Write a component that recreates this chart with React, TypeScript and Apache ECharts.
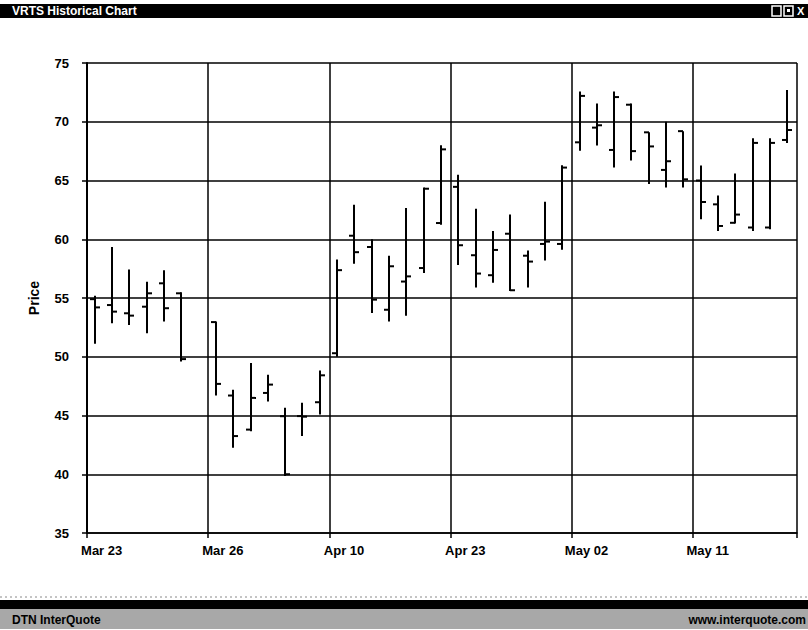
import React, { useEffect, useRef } from "react";
import * as echarts from "echarts";

// Tick labels shown every 7th session
const tickLabels = ["Mar 23", "Mar 26", "Apr 10", "Apr 23", "May 02", "May 11"];

// OHLC values per session (index 6 has no bar)
const opens = [
  54.9, 54.4, 53.7, 54.26, 56.25, 55.4, null,
  52.95, 46.7, 43.8, 46.92, 44.94, 44.95, 46.13,
  50.3, 60.3, 59.34, 54.0, 56.4, 57.55, 61.38,
  64.46, 58.64, 56.94, 60.47, 58.6, 59.6, 59.6,
  68.25, 69.5, 67.6, 71.45, 69.1, 65.9, 69.2,
  65.0, 62.97, 61.4, 61.0, 61.0, 68.45,
];
const highs = [
  55.2, 59.35, 57.43, 56.38, 57.37, 55.5, null,
  53.0, 47.2, 49.47, 48.47, 45.65, 46.08, 48.84,
  58.28, 62.94, 60.0, 58.6, 62.66, 64.4, 68.0,
  65.5, 62.6, 60.7, 62.1, 59.05, 63.2, 66.3,
  72.58, 71.56, 72.58, 71.56, 69.1, 70.0, 69.2,
  66.27, 63.73, 65.6, 68.6, 68.6, 72.7,
];
const lows = [
  51.1, 52.86, 52.7, 52.0, 53.0, 49.6, null,
  46.7, 42.26, 43.67, 46.2, 39.86, 43.25, 45.08,
  50.0, 57.91, 53.72, 53.0, 53.5, 57.12, 61.23,
  57.8, 55.9, 56.3, 55.6, 55.9, 58.2, 59.1,
  67.54, 67.97, 66.1, 66.7, 64.7, 64.4, 64.4,
  61.7, 60.7, 61.33, 60.7, 60.85, 68.2,
];
const closes = [
  54.2, 53.84, 53.5, 55.4, 54.13, 49.8, null,
  47.69, 43.25, 46.5, 47.63, 40.0, 44.9, 48.42,
  57.37, 58.9, 54.86, 57.7, 56.84, 64.3, 67.65,
  59.49, 57.08, 59.09, 55.66, 58.1, 59.8, 66.1,
  72.2, 69.7, 72.1, 67.5, 67.9, 66.64, 65.1,
  63.17, 61.13, 62.1, 68.2, 68.2, 69.3,
];

const sessions = opens.map((_, i) => String(i));

export default function App() {
  const ref = useRef<HTMLDivElement>(null);

  useEffect(() => {
    if (!ref.current) return;
    const chart = echarts.init(ref.current, undefined, { renderer: "svg" });

    const data: any[] = [];
    opens.forEach((o, i) => {
      if (o == null) return;
      data.push([i, o, highs[i], lows[i], closes[i]]);
    });

    const font = "'Liberation Sans', Arial, sans-serif";

    chart.setOption({
      animation: false,
      backgroundColor: "#ffffff",
      grid: { left: 87, right: 11, top: 63, bottom: 97, containLabel: false },
      xAxis: {
        type: "category",
        data: sessions,
        boundaryGap: true,
        axisLine: { show: true, lineStyle: { color: "#000", width: 1.5 } },
        axisTick: { show: true, interval: 6, length: 5, lineStyle: { color: "#000", width: 1.5 } },
        axisLabel: {
          interval: 6,
          margin: 11,
          color: "#000",
          fontWeight: "bold",
          fontSize: 13,
          fontFamily: font,
          padding: [0, 0, 0, 12],
          formatter: (_v: string, idx: number) => tickLabels[Math.floor(idx / 7)] ?? "",
        },
        splitLine: { show: true, interval: 6, lineStyle: { color: "#000", width: 1.5 } },
      },
      yAxis: {
        type: "value",
        min: 35,
        max: 75,
        interval: 5,
        name: "Price",
        nameLocation: "middle",
        nameGap: 46,
        nameTextStyle: { color: "#000", fontWeight: "bold", fontSize: 14, fontFamily: font },
        axisLine: { show: true, lineStyle: { color: "#000", width: 2 } },
        axisTick: { show: true, length: 5, lineStyle: { color: "#000", width: 1.5 } },
        axisLabel: { color: "#000", fontWeight: "bold", fontSize: 13, fontFamily: font, margin: 18 },
        splitLine: { show: true, lineStyle: { color: "#000", width: 1.5 } },
      },
      series: [
        {
          type: "custom",
          data,
          encode: { x: 0, y: [1, 2, 3, 4] },
          renderItem: (_params: any, api: any) => {
            const x = api.value(0);
            const o = api.coord([x, api.value(1)]);
            const h = api.coord([x, api.value(2)]);
            const l = api.coord([x, api.value(3)]);
            const c = api.coord([x, api.value(4)]);
            const px = Math.round(h[0]) - 1;
            const w = 5;
            const st = { stroke: "#000", lineWidth: 2 };
            return {
              type: "group",
              children: [
                { type: "line", shape: { x1: px, y1: h[1], x2: px, y2: l[1] }, style: st },
                { type: "line", shape: { x1: px - w, y1: o[1], x2: px, y2: o[1] }, style: st },
                { type: "line", shape: { x1: px, y1: c[1], x2: px + w, y2: c[1] }, style: st },
              ],
            };
          },
        },
      ],
      graphic: [
        { type: "rect", shape: { x: 0, y: 4, width: 808, height: 14 }, style: { fill: "#000" } },
        {
          type: "text",
          x: 12,
          y: 11,
          style: {
            text: "VRTS Historical Chart",
            fill: "#fff",
            font: `bold 12px ${font}`,
            verticalAlign: "middle",
          },
        },
        { type: "rect", shape: { x: 772, y: 6, width: 9, height: 10 }, style: { fill: "none", stroke: "#fff", lineWidth: 1.5 } },
        { type: "rect", shape: { x: 784, y: 6, width: 9, height: 10 }, style: { fill: "none", stroke: "#fff", lineWidth: 1.5 } },
        { type: "rect", shape: { x: 787, y: 9, width: 3, height: 3 }, style: { fill: "#fff" } },
        {
          type: "text",
          x: 797,
          y: 11,
          style: { text: "X", fill: "#fff", font: `bold 11px ${font}`, verticalAlign: "middle" },
        },
        { type: "line", shape: { x1: 0, y1: 597, x2: 808, y2: 597 }, style: { stroke: "#888", lineWidth: 1, lineDash: [2, 3] } },
        { type: "rect", shape: { x: 0, y: 600, width: 808, height: 9 }, style: { fill: "#000" } },
        { type: "rect", shape: { x: 0, y: 609, width: 808, height: 20 }, style: { fill: "#a8a8a8" } },
        {
          type: "text",
          x: 12,
          y: 620,
          style: { text: "DTN InterQuote", fill: "#000", font: `bold 12px ${font}`, verticalAlign: "middle" },
        },
        {
          type: "text",
          x: 806,
          y: 620,
          style: { text: "www.interquote.com", fill: "#000", font: `bold 12px ${font}`, verticalAlign: "middle", align: "right" },
        },
      ],
    });

    return () => chart.dispose();
  }, []);

  return (
    <div
      ref={ref}
      style={{ position: "fixed", left: 0, top: 0, width: 808, height: 630, background: "#fff" }}
    />
  );
}
